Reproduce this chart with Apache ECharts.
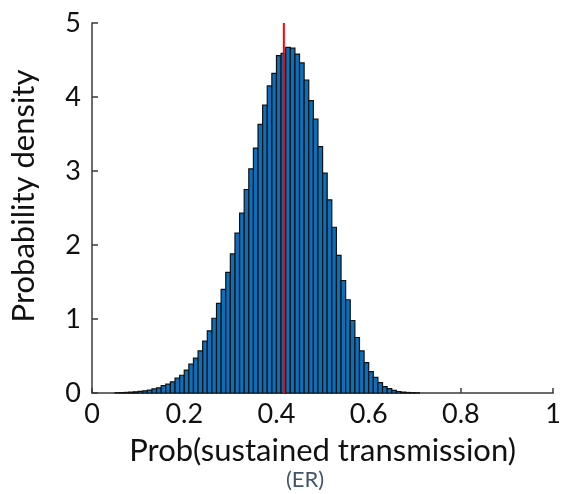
<!DOCTYPE html>
<html>
<head>
<meta charset="utf-8">
<script src="https://cdn.jsdelivr.net/npm/echarts@6/dist/echarts.min.js"></script>
<style>
  html, body { margin: 0; padding: 0; background: #ffffff; }
  #chart { width: 564px; height: 494px; }
</style>
</head>
<body>
<div id="chart"></div>
<script>
// Histogram bins: 100 bins of width 0.01 on [0, 1]
const binStart = 0;
const binWidth = 0.01;
const density = [
  0, 0, 0, 0, 0, 0.003, 0.005, 0.008, 0.012, 0.016,
  0.022, 0.03, 0.04, 0.055, 0.07, 0.10, 0.12, 0.15, 0.20, 0.24,
  0.31, 0.39, 0.47, 0.57, 0.70, 0.84, 1.01, 1.21, 1.40, 1.63,
  1.88, 2.16, 2.43, 2.75, 3.03, 3.31, 3.63, 3.89, 4.15, 4.32,
  4.56, 4.59, 4.67, 4.66, 4.58, 4.46, 4.23, 3.95, 3.70, 3.33,
  2.97, 2.61, 2.24, 1.86, 1.52, 1.26, 0.98, 0.75, 0.57, 0.41,
  0.29, 0.21, 0.14, 0.085, 0.06, 0.035, 0.02, 0.012, 0.007, 0.004,
  0.002, 0, 0, 0, 0, 0, 0, 0, 0, 0,
  0, 0, 0, 0, 0, 0, 0, 0, 0, 0,
  0, 0, 0, 0, 0, 0, 0, 0, 0, 0
];
// Reference value marked by the red vertical line
const markerValue = 0.416;
const markerSpan = [0, 5];

const xTicks = [0, 0.2, 0.4, 0.6, 0.8, 1];
const yTicks = [0, 1, 2, 3, 4, 5];

const FONT = 'Lato';

const bins = density.map((v, i) => [binStart + i * binWidth, binStart + (i + 1) * binWidth, v]);

const chart = echarts.init(document.getElementById('chart'), null, { renderer: 'canvas' });

const axisColor = '#3b3b3b';

chart.setOption({
  animation: false,
  backgroundColor: '#ffffff',
  grid: { left: 89, right: 9, top: 23, bottom: 101 },
  xAxis: {
    type: 'value',
    min: xTicks[0],
    max: xTicks[xTicks.length - 1],
    interval: 0.2,
    name: 'Prob(sustained transmission)',
    nameLocation: 'middle',
    nameGap: 42,
    nameTextStyle: { fontFamily: FONT, fontSize: 31, color: '#111111' },
    axisLine: { show: true, onZero: false, lineStyle: { color: axisColor, width: 1.5 } },
    axisTick: { show: true, inside: true, length: 5, lineStyle: { color: axisColor, width: 1.5 } },
    axisLabel: {
      fontFamily: FONT, fontSize: 27, color: '#111111', margin: 8,
      formatter: v => String(Math.round(v * 10) / 10)
    },
    splitLine: { show: false }
  },
  yAxis: {
    type: 'value',
    min: yTicks[0],
    max: yTicks[yTicks.length - 1],
    interval: 1,
    name: 'Probability density',
    nameLocation: 'middle',
    nameGap: 53,
    nameTextStyle: { fontFamily: FONT, fontSize: 31, color: '#111111', padding: [0, 0, 0, 24] },
    axisLine: { show: true, lineStyle: { color: axisColor, width: 1.5 } },
    axisTick: { show: true, inside: true, length: 6, lineStyle: { color: axisColor, width: 1.5 } },
    axisLabel: { fontFamily: FONT, fontSize: 27, color: '#111111', margin: 11 },
    splitLine: { show: false }
  },
  graphic: [{
    type: 'text',
    x: 305,
    y: 480,
    style: { text: '(ER)', font: '22px ' + FONT, fill: '#44546a', align: 'center', verticalAlign: 'middle' }
  }],
  series: [
    {
      type: 'custom',
      data: bins,
      encode: { x: [0, 1], y: 2 },
      renderItem: function (params, api) {
        const v = api.value(2);
        if (!(v > 0)) return null;
        const p0 = api.coord([api.value(0), 0]);
        const p1 = api.coord([api.value(1), v]);
        return {
          type: 'rect',
          shape: { x: p0[0], y: p1[1], width: p1[0] - p0[0], height: p0[1] - p1[1] },
          style: { fill: '#0b6fba', stroke: '#111111', lineWidth: 1.2 }
        };
      },
      z: 2
    },
    {
      type: 'line',
      data: markerSpan.map(y => [markerValue, y]),
      symbol: 'none',
      lineStyle: { color: '#ff0000', width: 2 },
      z: 5
    }
  ]
});
</script>
</body>
</html>
